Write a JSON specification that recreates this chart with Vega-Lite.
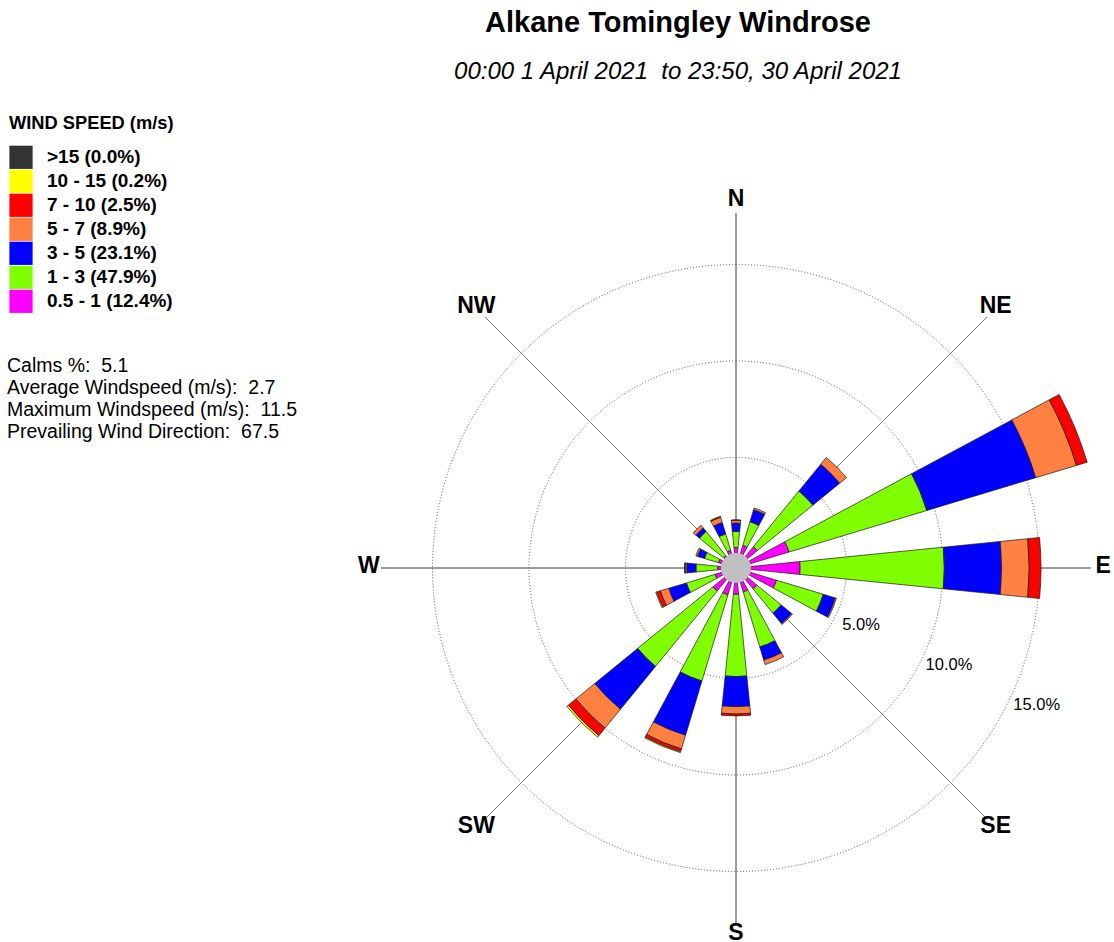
{
  "$schema": "https://vega.github.io/schema/vega-lite/v6.json",
  "width": 740,
  "height": 740,
  "autosize": {"type": "none"},
  "padding": {"left": 366, "top": 198, "right": 8, "bottom": 4},
  "background": "white",
  "config": {"font": "Liberation Sans", "view": {"stroke": null}},
  "title": {
    "text": "Alkane Tomingley Windrose",
    "subtitle": "00:00 1 April 2021\u00a0 to 23:50, 30 April 2021",
    "anchor": "middle",
    "frame": "group",
    "dx": -58,
    "offset": 31.5,
    "font": "Liberation Sans",
    "fontSize": 29,
    "fontWeight": "bold",
    "color": "black",
    "subtitleFont": "Liberation Sans",
    "subtitleFontSize": 24,
    "subtitleFontStyle": "italic",
    "subtitleColor": "black",
    "subtitlePadding": 21.5
  },
  "datasets": {
    "classes": [
      {"lo": 0.5, "speed": "0.5 - 1 (12.4%)"},
      {"lo": 1, "speed": "1 - 3 (47.9%)"},
      {"lo": 3, "speed": "3 - 5 (23.1%)"},
      {"lo": 5, "speed": "5 - 7 (8.9%)"},
      {"lo": 7, "speed": "7 - 10 (2.5%)"},
      {"lo": 10, "speed": "10 - 15 (0.2%)"},
      {"lo": 15, "speed": ">15 (0.0%)"}
    ],
    "rose": [
      {"dir": 0, "lo": 0.5, "pct": 0.34}, {"dir": 0, "lo": 1, "pct": 0.83}, {"dir": 0, "lo": 3, "pct": 0.44}, {"dir": 0, "lo": 5, "pct": 0.14}, {"dir": 0, "lo": 7, "pct": 0.02},
      {"dir": 22.5, "lo": 0.5, "pct": 0.5}, {"dir": 22.5, "lo": 1, "pct": 1.28}, {"dir": 22.5, "lo": 3, "pct": 0.65}, {"dir": 22.5, "lo": 5, "pct": 0.09},
      {"dir": 45, "lo": 0.5, "pct": 0.7}, {"dir": 45, "lo": 1, "pct": 3.72}, {"dir": 45, "lo": 3, "pct": 1.8}, {"dir": 45, "lo": 5, "pct": 0.45},
      {"dir": 67.5, "lo": 0.5, "pct": 2.15}, {"dir": 67.5, "lo": 1, "pct": 7.45}, {"dir": 67.5, "lo": 3, "pct": 5.9}, {"dir": 67.5, "lo": 5, "pct": 2.2}, {"dir": 67.5, "lo": 7, "pct": 0.58},
      {"dir": 90, "lo": 0.5, "pct": 2.6}, {"dir": 90, "lo": 1, "pct": 7.47}, {"dir": 90, "lo": 3, "pct": 2.97}, {"dir": 90, "lo": 5, "pct": 1.43}, {"dir": 90, "lo": 7, "pct": 0.61},
      {"dir": 112.5, "lo": 0.5, "pct": 1.47}, {"dir": 112.5, "lo": 1, "pct": 2.53}, {"dir": 112.5, "lo": 3, "pct": 0.65}, {"dir": 112.5, "lo": 5, "pct": 0.06},
      {"dir": 135, "lo": 0.5, "pct": 0.68}, {"dir": 135, "lo": 1, "pct": 1.62}, {"dir": 135, "lo": 3, "pct": 0.7}, {"dir": 135, "lo": 5, "pct": 0.05},
      {"dir": 157.5, "lo": 0.5, "pct": 0.57}, {"dir": 157.5, "lo": 1, "pct": 2.98}, {"dir": 157.5, "lo": 3, "pct": 0.71}, {"dir": 157.5, "lo": 5, "pct": 0.24},
      {"dir": 180, "lo": 0.5, "pct": 0.64}, {"dir": 180, "lo": 1, "pct": 4.26}, {"dir": 180, "lo": 3, "pct": 1.56}, {"dir": 180, "lo": 5, "pct": 0.38}, {"dir": 180, "lo": 7, "pct": 0.1},
      {"dir": 202.5, "lo": 0.5, "pct": 0.73}, {"dir": 202.5, "lo": 1, "pct": 4.66}, {"dir": 202.5, "lo": 3, "pct": 2.94}, {"dir": 202.5, "lo": 5, "pct": 0.74}, {"dir": 202.5, "lo": 7, "pct": 0.15}, {"dir": 202.5, "lo": 10, "pct": 0.05},
      {"dir": 225, "lo": 0.5, "pct": 0.82}, {"dir": 225, "lo": 1, "pct": 5.04}, {"dir": 225, "lo": 3, "pct": 2.87}, {"dir": 225, "lo": 5, "pct": 1.27}, {"dir": 225, "lo": 7, "pct": 0.5}, {"dir": 225, "lo": 10, "pct": 0.1},
      {"dir": 247.5, "lo": 0.5, "pct": 0.41}, {"dir": 247.5, "lo": 1, "pct": 1.55}, {"dir": 247.5, "lo": 3, "pct": 0.96}, {"dir": 247.5, "lo": 5, "pct": 0.45}, {"dir": 247.5, "lo": 7, "pct": 0.2}, {"dir": 247.5, "lo": 10, "pct": 0.05},
      {"dir": 270, "lo": 0.5, "pct": 0.23}, {"dir": 270, "lo": 1, "pct": 1.12}, {"dir": 270, "lo": 3, "pct": 0.48}, {"dir": 270, "lo": 5, "pct": 0.08}, {"dir": 270, "lo": 7, "pct": 0.04},
      {"dir": 292.5, "lo": 0.5, "pct": 0.23}, {"dir": 292.5, "lo": 1, "pct": 0.75}, {"dir": 292.5, "lo": 3, "pct": 0.38}, {"dir": 292.5, "lo": 5, "pct": 0.09},
      {"dir": 315, "lo": 0.5, "pct": 0.11}, {"dir": 315, "lo": 1, "pct": 1.61}, {"dir": 315, "lo": 3, "pct": 0.24}, {"dir": 315, "lo": 5, "pct": 0.18},
      {"dir": 337.5, "lo": 0.5, "pct": 0.23}, {"dir": 337.5, "lo": 1, "pct": 0.89}, {"dir": 337.5, "lo": 3, "pct": 0.62}, {"dir": 337.5, "lo": 5, "pct": 0.28}, {"dir": 337.5, "lo": 7, "pct": 0.05}
    ],
    "rings": [
      {"ring": 5, "label": "5.0%"},
      {"ring": 10, "label": "10.0%"},
      {"ring": 15, "label": "15.0%"}
    ],
    "compass": [
      {"dir": 0, "name": "N"}, {"dir": 45, "name": "NE"}, {"dir": 90, "name": "E"}, {"dir": 135, "name": "SE"},
      {"dir": 180, "name": "S"}, {"dir": 225, "name": "SW"}, {"dir": 270, "name": "W"}, {"dir": 315, "name": "NW"}
    ]
  },
  "layer": [
    {
      "data": {"name": "rings"},
      "mark": {"type": "arc", "filled": false, "stroke": "#555555", "strokeWidth": 1, "strokeDash": [1, 2]},
      "encoding": {
        "theta": {"datum": 0, "type": "quantitative", "stack": null, "scale": {"type": "linear", "domain": [0, 360], "range": [0, 6.283185307179586]}},
        "theta2": {"datum": 360},
        "radius": {"field": "ring", "type": "quantitative", "stack": null, "scale": {"type": "linear", "zero": false, "domain": [0, 20], "range": [14, 400]}}
      }
    },
    {
      "data": {"name": "compass"},
      "mark": {"type": "arc", "filled": false, "stroke": "#7a7a7a", "strokeWidth": 1},
      "encoding": {
        "theta": {"field": "dir", "type": "quantitative", "stack": null, "scale": {"type": "linear", "domain": [0, 360], "range": [0, 6.283185307179586]}},
        "theta2": {"field": "dir"},
        "radius": {"datum": 17.67, "type": "quantitative", "stack": null, "scale": {"type": "linear", "zero": false, "domain": [0, 20], "range": [14, 400]}}
      }
    },
    {
      "data": {"name": "rose"},
      "transform": [
        {"lookup": "lo", "from": {"data": {"name": "classes"}, "key": "lo", "fields": ["speed"]}},
        {"stack": "pct", "groupby": ["dir"], "sort": [{"field": "lo", "order": "ascending"}], "as": ["r0", "r1"]}
      ],
      "mark": {"type": "arc", "thetaOffset": -0.1, "theta2Offset": 0.1, "stroke": "#1a1a1a", "strokeWidth": 0.7},
      "encoding": {
        "theta": {"field": "dir", "type": "quantitative", "stack": null, "scale": {"type": "linear", "domain": [0, 360], "range": [0, 6.283185307179586]}},
        "theta2": {"field": "dir"},
        "radius": {"field": "r1", "type": "quantitative", "stack": null, "scale": {"type": "linear", "zero": false, "domain": [0, 20], "range": [14, 400]}},
        "radius2": {"field": "r0"},
        "color": {
          "field": "speed",
          "type": "nominal",
          "scale": {
            "domain": [">15 (0.0%)", "10 - 15 (0.2%)", "7 - 10 (2.5%)", "5 - 7 (8.9%)", "3 - 5 (23.1%)", "1 - 3 (47.9%)", "0.5 - 1 (12.4%)"],
            "range": ["#333333", "#FFFF00", "#FF0000", "#FF8040", "#0000FF", "#80FF00", "#FF00FF"]
          },
          "legend": {
            "orient": "none",
            "legendX": -357,
            "legendY": -83,
            "title": "WIND SPEED (m/s)",
            "titleFont": "Liberation Sans",
            "titleFontSize": 18.3,
            "titleFontWeight": "bold",
            "titleColor": "black",
            "titlePadding": 12,
            "labelFont": "Liberation Sans",
            "labelFontSize": 19,
            "labelFontWeight": "bold",
            "labelColor": "black",
            "labelOffset": 14,
            "symbolType": "square",
            "symbolSize": 540,
            "symbolStrokeWidth": 0,
            "symbolOpacity": 1,
            "rowPadding": 0,
            "padding": 0
          }
        }
      }
    },
    {
      "data": {"values": [{"calm": 5.1}]},
      "mark": {"type": "arc", "fill": "#c0c0c0", "stroke": null, "radius2": 0, "radiusOffset": 1},
      "encoding": {
        "theta": {"datum": 0, "type": "quantitative", "stack": null, "scale": {"type": "linear", "domain": [0, 360], "range": [0, 6.283185307179586]}},
        "theta2": {"datum": 360},
        "radius": {"datum": 0, "type": "quantitative", "stack": null, "scale": {"type": "linear", "zero": false, "domain": [0, 20], "range": [14, 400]}}
      }
    },
    {
      "data": {"name": "compass"},
      "mark": {"type": "text", "fontSize": 23, "fontWeight": "bold", "color": "black", "font": "Liberation Sans", "dy": -2},
      "encoding": {
        "theta": {"field": "dir", "type": "quantitative", "stack": null, "scale": {"type": "linear", "domain": [0, 360], "range": [0, 6.283185307179586]}},
        "radius": {"datum": 18.3, "type": "quantitative", "stack": null, "scale": {"type": "linear", "zero": false, "domain": [0, 20], "range": [14, 400]}},
        "text": {"field": "name"}
      }
    },
    {
      "data": {"name": "rings"},
      "mark": {"type": "text", "fontSize": 16.5, "color": "black", "font": "Liberation Sans", "radiusOffset": 27},
      "encoding": {
        "theta": {"datum": 114.5, "type": "quantitative", "stack": null, "scale": {"type": "linear", "domain": [0, 360], "range": [0, 6.283185307179586]}},
        "radius": {"field": "ring", "type": "quantitative", "stack": null, "scale": {"type": "linear", "zero": false, "domain": [0, 20], "range": [14, 400]}},
        "text": {"field": "label"}
      }
    },
    {
      "data": {"values": [{"stats": "Calms %:\u00a0 5.1\nAverage Windspeed (m/s):\u00a0 2.7\nMaximum Windspeed (m/s):\u00a0 11.5\nPrevailing Wind Direction:\u00a0 67.5"}]},
      "mark": {"type": "text", "x": -359, "y": 158.5, "align": "left", "baseline": "top", "fontSize": 19.5, "lineHeight": 22.3, "lineBreak": "\n", "color": "black", "font": "Liberation Sans"},
      "encoding": {"text": {"field": "stats"}}
    }
  ]
}
